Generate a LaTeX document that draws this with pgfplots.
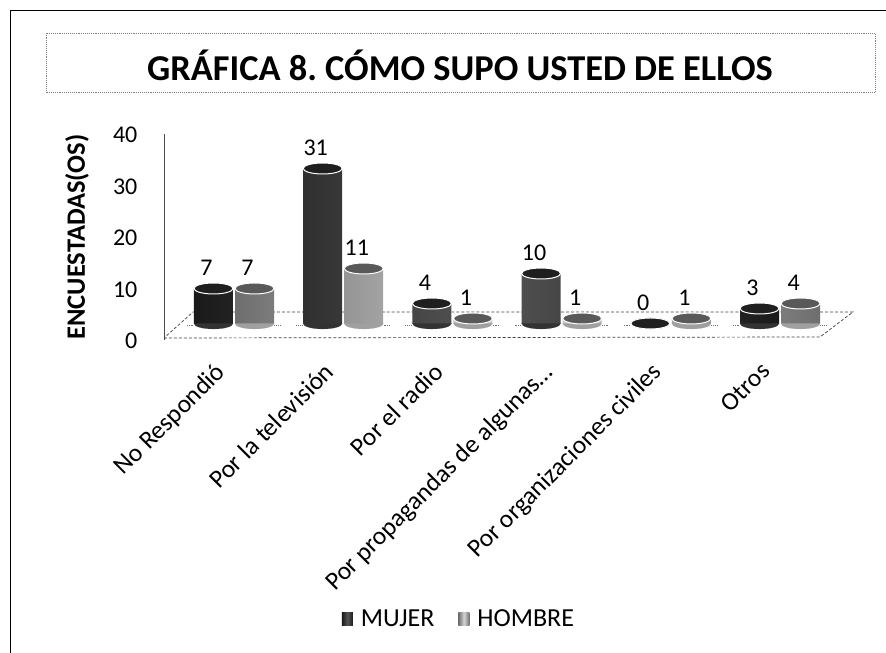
\documentclass[border=0pt]{standalone}
\usepackage{fontspec}
\setmainfont{Carlito}
\usepackage{pgfplots}
\pgfplotsset{compat=1.18}
\usepackage{pgfplotstable}
\newcommand{\fpx}[1]{\fontsize{#1bp}{#1bp}\selectfont}
\definecolor{mujA}{HTML}{1A1A1A}
\definecolor{mujB}{HTML}{555555}
\definecolor{mujC}{HTML}{333333}
\definecolor{homA}{HTML}{6E6E6E}
\definecolor{homB}{HTML}{D6D6D6}
\definecolor{homC}{HTML}{A0A0A0}
\pgfdeclareplotmark{cyl}{%
  \pgfpathellipse{\pgfpointorigin}{\pgfqpoint{19.5bp}{0pt}}{\pgfqpoint{0pt}{5.5bp}}%
  \pgfusepathqfillstroke}
\pgfplotstableread{
x mujer hombre
0 7 7
1 31 11
2 4 1
3 10 1
4 0 1
5 3 4
}\datos
\pgfplotsset{/pgf/number format/assume math mode=true,
  plano/.style={at={(164bp,329.5bp)}, anchor=south west,
    scale only axis, width=656bp, height=200bp,
    xmin=-0.641, xmax=5.366, ymin=0, ymax=40, clip=false}}
\begin{document}
\frenchspacing
\begin{tikzpicture}[x=1bp,y=1bp]
\path[use as bounding box] (0,0) rectangle (886,653);
% page frame and title box
\draw[black,line width=1.2bp] (10.5,0) -- (10.5,642.5) -- (886,642.5);
\draw[gray,densely dotted,line width=0.9bp] (46,560.5) rectangle (875,620);
\node[font=\bfseries\fpx{36.4}] at (460,588) {GRÁFICA 8. CÓMO SUPO USTED DE ELLOS};
% value-axis wall with tick labels
\begin{axis}[
  name=wall, at={(164bp,313bp)}, anchor=south west,
  scale only axis, width=656bp, height=206bp,
  xmin=-0.641, xmax=5.366, ymin=0, ymax=40,
  axis x line=none, axis line style={draw=none},
  axis y line=left, y axis line style={-,draw=black!70,line width=0.7bp},
  ytick={0,10,20,30,40}, ytick style={draw=none},
  yticklabel style={font=\fpx{24},xshift=-21bp,yshift=-1bp},
  ylabel={\bfseries ENCUESTADAS(OS)},
  every axis y label/.style={at={(axis description cs:-0.1326,0.5)},rotate=90,anchor=center,font=\fpx{26.5}},
  clip=false,
]
\addplot[draw=none,forget plot] coordinates {(0,0)};
\end{axis}
% floor and column bases
\begin{axis}[plano, hide axis, unbounded coords=jump]
\addplot[fill=white,draw=black!75,densely dashed,line width=0.7bp,forget plot]
  coordinates {(-0.641,-2.9) (5.366,-2.7) (5.668,2.3) (-0.375,2.3) (-0.641,-2.9)};
\addplot[black!55,densely dotted,line width=0.8bp,forget plot] coordinates {
  (-0.43,-0.3)(-0.37,-0.3)(0,nan)(0.37,-0.3)(0.43,-0.3)(0,nan)
  (0.57,-0.3)(0.63,-0.3)(0,nan)(1.37,-0.3)(1.43,-0.3)(0,nan)
  (1.57,-0.3)(1.63,-0.3)(0,nan)(2.37,-0.3)(2.43,-0.3)(0,nan)
  (2.57,-0.3)(2.63,-0.3)(0,nan)(3.37,-0.3)(3.43,-0.3)(0,nan)
  (3.57,-0.3)(3.63,-0.3)(0,nan)(4.37,-0.3)(4.43,-0.3)(0,nan)
  (4.57,-0.3)(4.63,-0.3)(0,nan)(5.37,-0.3)(5.43,-0.3)};
\addplot[only marks,mark=cyl,mark options={fill=mujC,draw=mujC,line width=0.1bp},forget plot]
  table[x expr=\thisrow{x}-0.188,y expr=0] {\datos};
\addplot[only marks,mark=cyl,mark options={fill=homC,draw=homC,line width=0.1bp},forget plot]
  table[x expr=\thisrow{x}+0.188,y expr=0] {\datos};
\end{axis}
% columns, category labels, legend
\begin{axis}[plano,
  axis y line=none, axis x line=bottom, axis line style={draw=none},
  xtick={0,1,2,3,4,5}, x tick style={draw=none},
  xticklabels={No Respondió,Por la televisión,Por el radio,{Por propagandas de algunas\ldots},Por organizaciones civiles,Otros},
  xticklabel style={font=\fpx{25.5},rotate=45,anchor=north east,inner sep=0pt,yshift=-10.5bp,xshift=-39.3bp},
  legend columns=2,
  legend style={draw=none,fill=none,font=\fpx{26},at={(axis description cs:0.4497,-1.4775)},anchor=center,
    inner sep=0pt, /tikz/every even column/.append style={column sep=22bp}},
  legend image code/.code={\path[#1,draw=none] (0bp,-6.5bp) rectangle (11bp,6.5bp);\path (17bp,0bp);},
]
\addplot[ybar,bar shift=0pt,bar width=39bp,draw=none,left color=mujA,right color=mujA,middle color=mujB]
  table[x expr=\thisrow{x}-0.188,y=mujer] {\datos};
\addlegendentry{MUJER}
\addplot[ybar,bar shift=0pt,bar width=39bp,draw=none,left color=homA,right color=homA,middle color=homB]
  table[x expr=\thisrow{x}+0.188,y=hombre] {\datos};
\addlegendentry{HOMBRE}
\addplot[only marks,mark=cyl,mark options={fill=black!88,draw=white,line width=1bp},forget plot,
  nodes near coords,every node near coord/.append style={font=\fpx{24},anchor=center,xshift=-7bp,yshift=21bp,inner sep=0pt}]
  table[x expr=\thisrow{x}-0.188,y=mujer] {\datos};
\addplot[only marks,mark=cyl,mark options={fill=black!65,draw=white,line width=1bp},forget plot,
  nodes near coords,every node near coord/.append style={font=\fpx{24},anchor=center,xshift=-7bp,yshift=21bp,inner sep=0pt}]
  table[x expr=\thisrow{x}+0.188,y=hombre] {\datos};
\end{axis}
\end{tikzpicture}
\end{document}
